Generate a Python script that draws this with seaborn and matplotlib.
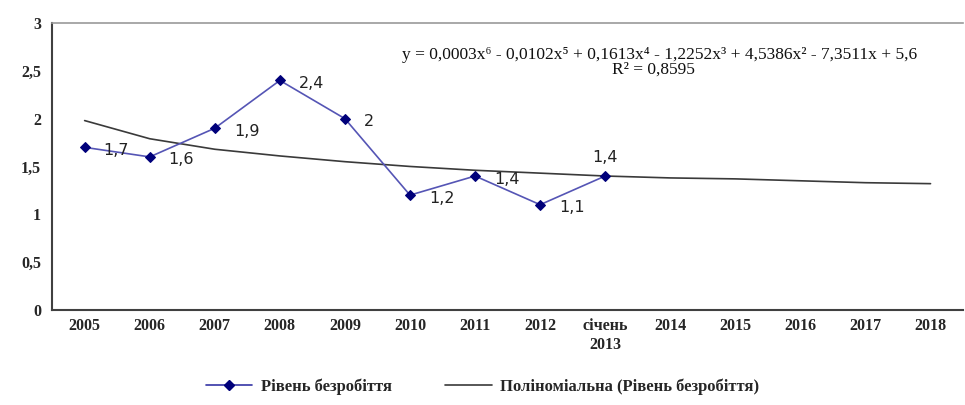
import numpy as np
import pandas as pd
import matplotlib
matplotlib.use("Agg")
import matplotlib.pyplot as plt
from matplotlib.lines import Line2D
import seaborn as sns

sns.set_style("white")
plt.rcParams['font.family'] = ['Liberation Serif', 'DejaVu Serif']

categories = ["2005", "2006", "2007", "2008", "2009", "2010", "2011", "2012",
              "січень\n2013", "2014", "2015", "2016", "2017", "2018"]
unemployment = [1.7, 1.6, 1.9, 2.4, 2.0, 1.2, 1.4, 1.1, 1.4]
value_labels = ["1,7", "1,6", "1,9", "2,4", "2", "1,2", "1,4", "1,1", "1,4"]
trend = [1.98, 1.79, 1.68, 1.61, 1.55, 1.50, 1.46, 1.43, 1.40,
         1.38, 1.37, 1.35, 1.33, 1.32]
yticks = [0, 0.5, 1, 1.5, 2, 2.5, 3]
ytick_labels = ["0", "0,5", "1", "1,5", "2", "2,5", "3"]
equation = ("y = 0,0003x\u2076 - 0,0102x\u2075 + 0,1613x\u2074 - 1,2252x\u00b3 "
            "+ 4,5386x\u00b2 - 7,3511x + 5,6")
r2 = "R\u00b2 = 0,8595"

df = pd.DataFrame({"pos": np.arange(len(unemployment)), "value": unemployment})
df_trend = pd.DataFrame({"pos": np.arange(len(trend)), "value": trend})

fig = plt.figure(figsize=(9.65, 4.05), dpi=100)
ax = fig.add_axes([0.054, 0.235, 0.944, 0.708])

sns.lineplot(data=df_trend, x="pos", y="value", ax=ax, color="#3a3a3a",
             linewidth=1.2, zorder=2)
sns.lineplot(data=df, x="pos", y="value", ax=ax, color="#5555b5",
             linewidth=1.2, marker="D", markersize=5.5,
             markerfacecolor="#00007a", markeredgecolor="#00007a", zorder=3)

# data labels
for i, (v, lab) in enumerate(zip(unemployment, value_labels)):
    if i == len(unemployment) - 1:
        ax.annotate(lab, (i, v), xytext=(0, 19), textcoords="offset pixels",
                    ha="center", va="center", fontsize=11.5,
                    family="DejaVu Sans", color="#222222")
    else:
        ax.annotate(lab, (i, v), xytext=(19, -3), textcoords="offset pixels",
                    ha="left", va="center", fontsize=11.5,
                    family="DejaVu Sans", color="#222222")

ax.text(0.667, 0.89, equation, transform=ax.transAxes, ha="center",
        va="center", fontsize=12.5, color="#111111")
ax.text(0.66, 0.838, r2, transform=ax.transAxes, ha="center",
        va="center", fontsize=12.5, color="#111111")

ax.set_xlim(-0.5, len(categories) - 0.5)
ax.set_ylim(0, 3)
ax.set_xticks(np.arange(len(categories)))
ax.set_xticklabels(categories, fontsize=11.5, fontweight="bold")
ax.set_xticks(np.arange(len(categories) + 1) - 0.5, minor=True)
ax.tick_params(axis="x", which="major", length=0, pad=6)
ax.tick_params(axis="x", which="minor", length=5, width=1.2,
               direction="out", color="#333333")
ax.set_yticks(yticks)
ax.set_yticklabels(ytick_labels, fontsize=11.5, fontweight="bold")
ax.tick_params(axis="y", length=5, width=1.2, direction="out",
               color="#333333", pad=3)
ax.set_xlabel("")
ax.set_ylabel("")

for side in ["left", "bottom"]:
    ax.spines[side].set_color("#404040")
    ax.spines[side].set_linewidth(1.5)
ax.spines["top"].set_color("#9a9a9a")
ax.spines["top"].set_linewidth(1.2)
ax.spines["right"].set_visible(False)

handles = [
    Line2D([], [], color="#3535a5", linewidth=1.2, marker="D", markersize=5,
           markerfacecolor="#00007a", markeredgecolor="#00007a"),
    Line2D([], [], color="#3a3a3a", linewidth=1.2),
]
fig.legend(handles, ["Рівень безробіття", "Поліноміальна (Рівень безробіття)"],
           loc="lower center", bbox_to_anchor=(0.5, -0.012), ncol=2,
           frameon=False, handlelength=2.8, handletextpad=0.5,
           columnspacing=3.2,
           prop={"family": ["Liberation Serif", "DejaVu Serif"],
                 "weight": "bold", "size": 12})

fig.savefig("out.png", dpi=100)
